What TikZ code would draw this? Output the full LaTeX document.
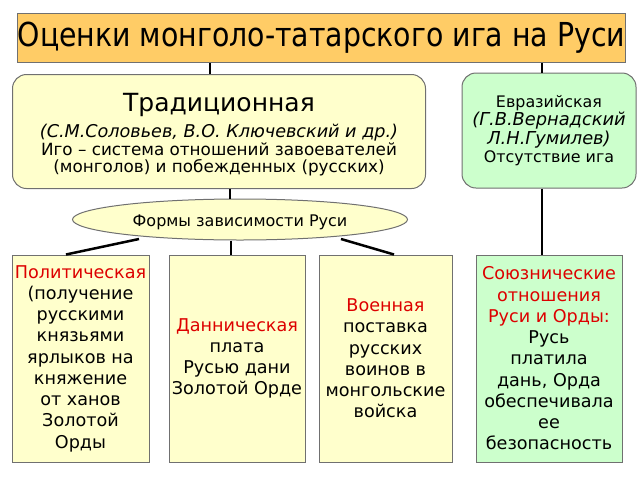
\documentclass[tikz,border=0pt]{standalone}
\usepackage{fontspec}
\setmainfont{DejaVu Sans}
\newfontfamily\titlefont[FakeStretch=0.86]{DejaVu Sans}
\usetikzlibrary{shapes.geometric}
\definecolor{ttlfill}{HTML}{FFCC66}
\definecolor{yfill}{HTML}{FFFFCC}
\definecolor{gfill}{HTML}{CCFFCC}
\definecolor{bord}{HTML}{707070}
\definecolor{redtxt}{HTML}{DD0000}
\tikzset{
  box/.style={draw=bord, line width=1pt, inner sep=0pt, align=center},
  rbox/.style={box, rounded corners=14pt},
  lowbox/.style={box, minimum height=207pt, font=\fontsize{17.6}{21.25}\selectfont},
  conn/.style={line width=2.5pt, black},
}
\begin{document}
\begin{tikzpicture}[x=1pt,y=-1pt]
\useasboundingbox (0,0) rectangle (640,480);
\node[box, fill=ttlfill, minimum width=603pt, minimum height=49pt,
  font=\titlefont\fontsize{33}{36}\selectfont] (title) at (321.5,37.5)
  {Оценки монголо-татарского ига на Руси};
\node[rbox, fill=yfill, minimum width=413pt, minimum height=114pt,
  font=\fontsize{16.8}{17.7}\selectfont] (trad) at (219,131.5)
  {{\fontsize{25}{28}\selectfont\rule{0pt}{25pt}Традиционная}\\[6pt]
   {\fontsize{17.6}{17.7}\selectfont\itshape (С.М.Соловьев, В.О. Ключевский и др.)}\\
   Иго – система отношений завоевателей\\
   (монголов) и побежденных (русских)};
\node[rbox, fill=gfill, minimum width=174pt, minimum height=115pt,
  font=\fontsize{15.9}{18.3}\selectfont] (eur) at (549,130.5)
  {Евразийская\\
   {\fontsize{17.8}{18.3}\selectfont\itshape (Г.В.Вернадский}\\
   {\fontsize{17.8}{18.3}\selectfont\itshape Л.Н.Гумилев)}\\
   Отсутствие ига};
\node[ellipse, draw=bord, line width=1pt, fill=yfill, minimum width=335pt, minimum height=41pt, inner sep=0pt,
  font=\fontsize{16}{17}\selectfont] (form) at (240,219.5)
  {\rule{0pt}{17pt}Формы зависимости Руси};
\node[lowbox, fill=yfill, minimum width=137pt] (pol) at (80.5,358.5)
  {\textcolor{redtxt}{Политическая}\\
   (получение\\ русскими\\ князьями\\ ярлыков на\\ княжение\\ от ханов\\ Золотой\\ Орды};
\node[lowbox, fill=yfill, minimum width=136pt] (dan) at (237,358.5)
  {\textcolor{redtxt}{Данническая}\\ плата\\ Русью дани\\ Золотой Орде};
\node[lowbox, fill=yfill, minimum width=133pt] (voen) at (385.5,358.5)
  {\textcolor{redtxt}{Военная}\\ поставка\\ русских\\ воинов в\\ монгольские\\ войска};
\node[lowbox, fill=gfill, minimum width=146pt] (souz) at (549,358.5)
  {\textcolor{redtxt}{Союзнические}\\ \textcolor{redtxt}{отношения}\\
   \textcolor{redtxt}{Руси и Орды:}\\ Русь\\ платила\\ дань, Орда\\ обеспечивала\\ ее\\ безопасность};
% connectors
\draw[conn] ([xshift=-9pt]trad.north) -- ([xshift=-9pt]trad.north |- title.south);
\draw[conn] ([xshift=-7pt]eur.north) -- ([xshift=-7pt]eur.north |- title.south);
\draw[conn] ([xshift=11pt]trad.south) -- ([xshift=11pt]trad.south |- form.north);
\draw[conn] ([xshift=-7pt]eur.south) -- ([xshift=-7pt]eur.south |- souz.north);
\draw[conn] ([shift={(-101pt,-19.5pt)}]form.center) -- ([xshift=-14.5pt]pol.north);
\draw[conn] ([xshift=-9pt]form.south) -- ([xshift=-6pt]dan.north);
\draw[conn] ([shift={(101pt,-19.5pt)}]form.center) -- ([xshift=8.5pt]voen.north);
\end{tikzpicture}
\end{document}
